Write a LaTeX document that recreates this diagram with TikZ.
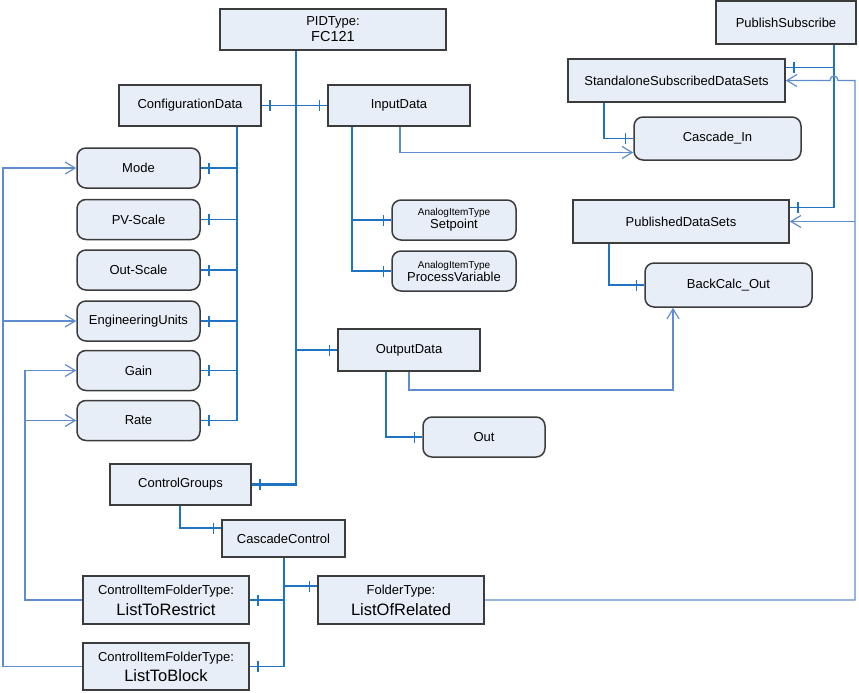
\documentclass[tikz,border=0pt]{standalone}
\usepackage{fontspec}
\setmainfont{Liberation Sans}
\usetikzlibrary{arrows.meta,decorations.markings}
\definecolor{boxfill}{RGB}{232,238,247}
\definecolor{boxline}{RGB}{60,60,60}
\definecolor{compc}{RGB}{30,115,195}
\definecolor{refc}{RGB}{95,140,208}
\tikzset{
 box/.style={draw=boxline, fill=boxfill, line width=1.5pt, inner sep=0pt, align=center, font=\fontsize{13}{15}\selectfont},
 rbox/.style={box, rounded corners=9pt},
 comp/.style={draw=compc, line width=1.5pt, postaction={decorate}, decoration={markings, mark=at position -8pt with {\draw[compc, line width=1.5pt] (0pt,-5.5pt) -- (0pt,5.5pt);}}},
 refl/.style={draw=refc, line width=1.3pt, -{Straight Barb[length=10pt,width=12pt,line width=1.2pt]}},
}
\newcommand{\fsm}{\fontsize{10}{11}\selectfont}
\newcommand{\fbig}{\fontsize{16.5}{18}\selectfont}
\begin{document}
\begin{tikzpicture}[x=1pt,y=-1pt]
\useasboundingbox (0,0) rectangle (859,693);
% nodes
\node[box, minimum width=226pt, minimum height=41pt] (pid) at (333,29.5) {PIDType:\\[1pt]{\fontsize{14.5}{16}\selectfont FC121}};
\node[box, minimum width=142pt, minimum height=41pt] (cfg) at (190,105.5) {ConfigurationData};
\node[box, minimum width=142pt, minimum height=41pt] (inp) at (399,105.5) {InputData};
\node[box, minimum width=140pt, minimum height=43pt] (ps) at (786,22.5) {PublishSubscribe};
\node[box, minimum width=217pt, minimum height=43pt] (ssds) at (676.5,80.5) {StandaloneSubscribedDataSets};
\node[rbox, minimum width=167pt, minimum height=43pt] (casin) at (717.5,138.5) {Cascade\_In};
\node[box, minimum width=216pt, minimum height=43pt] (pds) at (681,221.5) {PublishedDataSets};
\node[rbox, minimum width=167pt, minimum height=44pt] (bco) at (728.5,285) {BackCalc\_Out};
\node[rbox, minimum width=123pt, minimum height=40pt] (mode) at (138.5,168) {Mode};
\node[rbox, minimum width=123pt, minimum height=40pt] (pvs) at (138.5,219.5) {PV-Scale};
\node[rbox, minimum width=123pt, minimum height=40pt] (ous) at (138.5,270) {Out-Scale};
\node[rbox, minimum width=123pt, minimum height=40pt] (eu) at (138.5,321) {EngineeringUnits};
\node[rbox, minimum width=123pt, minimum height=40pt] (gain) at (138.5,370.5) {Gain};
\node[rbox, minimum width=123pt, minimum height=40pt] (rate) at (138.5,420.5) {Rate};
\node[rbox, minimum width=124pt, minimum height=40pt] (sp) at (454,220) {{\fsm AnalogItemType}\\[-2pt]Setpoint};
\node[rbox, minimum width=124pt, minimum height=40pt] (pv) at (454,271) {{\fsm AnalogItemType}\\[-2pt]ProcessVariable};
\node[box, minimum width=142pt, minimum height=42pt] (outd) at (409,350) {OutputData};
\node[rbox, minimum width=122pt, minimum height=40pt] (outv) at (484,437) {Out};
\node[box, minimum width=141pt, minimum height=41pt] (cg) at (180.5,484.5) {ControlGroups};
\node[box, minimum width=123pt, minimum height=37pt] (cc) at (283.5,538.5) {CascadeControl};
\node[box, minimum width=166pt, minimum height=48pt] (ltr) at (166,600) {ControlItemFolderType:\\[6pt]{\fbig ListToRestrict}};
\node[box, minimum width=166pt, minimum height=47pt] (ltb) at (166,666.5) {ControlItemFolderType:\\[5pt]{\fbig ListToBlock}};
\node[box, minimum width=166pt, minimum height=48pt] (lor) at (401,600) {FolderType:\\[6pt]{\fbig ListOfRelated}};
% trunk coordinates
\coordinate (xA) at (296,0);
\coordinate (xB) at (237,0);
\coordinate (xC) at (352,0);
\coordinate (xD) at (400,0);
\coordinate (xE) at (604,0);
\coordinate (xF) at (834,0);
\coordinate (xG) at (609,0);
\coordinate (xH) at (386,0);
\coordinate (xI) at (409,0);
\coordinate (xJ) at (673,0);
\coordinate (xK) at (180,0);
\coordinate (xL) at (284,0);
\coordinate (xM) at (855,0);
\coordinate (xN) at (25,0);
\coordinate (xO) at (3,0);
\coordinate (yB) at (0,390);
\coordinate (casinR) at ([yshift=-14pt]casin.west);
\coordinate (pdsT) at ([yshift=14pt]pds.east);
\coordinate (ssdsT) at ([yshift=13pt]ssds.east);
\coordinate (ccT) at ([yshift=10.5pt]cc.west);
\coordinate (lorT) at ([yshift=14pt]lor.west);
\coordinate (hopC) at (xF |- ssds.east);
% PIDType composition
\draw[comp, line width=2.2pt] (pid.south -| xA) |- (cg.east);
\draw[comp] (xA |- cfg.east) -- (cfg.east);
\draw[comp] (xA |- inp.west) -- (inp.west);
\draw[comp] (xA |- outd.west) -- (outd.west);
% ConfigurationData
\draw[comp] (cfg.south -| xB) |- (rate.east);
\draw[comp] (xB |- mode.east) -- (mode.east);
\draw[comp] (xB |- pvs.east) -- (pvs.east);
\draw[comp] (xB |- ous.east) -- (ous.east);
\draw[comp] (xB |- eu.east) -- (eu.east);
\draw[comp] (xB |- gain.east) -- (gain.east);
% InputData
\draw[comp] (inp.south -| xC) |- (pv.west);
\draw[comp] (xC |- sp.west) -- (sp.west);
\draw[refl] (inp.south -| xD) |- (casinR);
% Standalone
\draw[comp] (ssds.south -| xE) |- (casin.west);
% PublishSubscribe
\draw[comp] (ps.south -| xF) |- (pdsT);
\draw[comp] (xF |- ssdsT) -- (ssdsT);
% PublishedDataSets
\draw[comp] (pds.south -| xG) |- (bco.west);
% OutputData
\draw[comp] (outd.south -| xH) |- (outv.west);
\draw[refl] (outd.south -| xI) |- (yB -| xJ) -- (bco.south -| xJ);
% ControlGroups
\draw[comp] (cg.south -| xK) |- (ccT);
% CascadeControl
\draw[comp] (cc.south -| xL) |- (ltb.east);
\draw[comp] (xL |- ltr.east) -- (ltr.east);
\draw[comp] (xL |- lorT) -- (lorT);
% ListOfRelated references
\draw[refl] (lor.east) -| (xM |- ssds.east) -- ([xshift=4pt]hopC) .. controls ([xshift=4pt,yshift=6pt]hopC) and ([xshift=-4pt,yshift=6pt]hopC) .. ([xshift=-4pt]hopC) -- (ssds.east);
\draw[refl] (xM |- pds.east) -- (pds.east);
% ListToRestrict references
\draw[refl] (ltr.west) -| (xN |- gain.west) -- (gain.west);
\draw[refl] (xN |- rate.west) -- (rate.west);
% ListToBlock references
\draw[refl] (ltb.west) -| (xO |- mode.west) -- (mode.west);
\draw[refl] (xO |- eu.west) -- (eu.west);
\end{tikzpicture}
\end{document}
